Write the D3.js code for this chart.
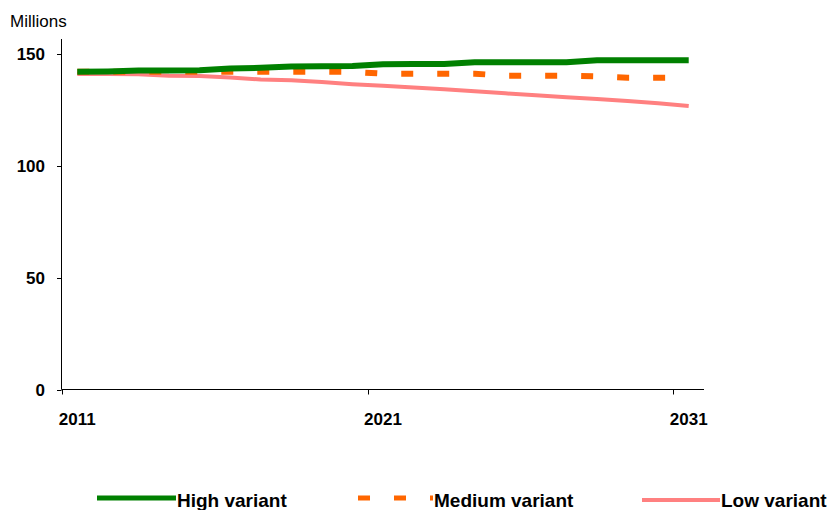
<!DOCTYPE html>
<html>
<head>
<meta charset="utf-8">
<script src="https://cdn.jsdelivr.net/npm/d3@7"></script>
<style>
  body { margin: 0; background: #fff; }
  text { font-family: Arial, "Liberation Sans", sans-serif; fill: #000; }
</style>
</head>
<body>
<div id="chart"></div>
<script>
// data
var years = [2011,2012,2013,2014,2015,2016,2017,2018,2019,2020,2021,2022,2023,2024,2025,2026,2027,2028,2029,2030,2031];
var yearLabels = [2011, 2021, 2031];
var yTicks = [0, 50, 100, 150];

var highVariant   = [142.1,142.2,142.6,142.6,142.7,143.5,143.8,144.4,144.5,144.6,145.4,145.5,145.5,146.3,146.3,146.3,146.3,147.2,147.2,147.2,147.2];
var mediumVariant = [142.1,142.1,142.1,142.1,142.1,142.1,142.1,142.1,142.1,142.0,141.2,141.2,141.2,141.2,140.3,140.3,140.3,140.0,139.4,139.4,139.4];
var lowVariant    = [141.1,141.1,141.0,140.3,140.2,139.5,138.6,138.3,137.5,136.5,135.8,135.0,134.2,133.3,132.4,131.6,130.7,129.9,129.0,128.0,126.7];

var seriesNames = ["High variant", "Medium variant", "Low variant"];
var seriesData = [highVariant, mediumVariant, lowVariant];

var svg = d3.select("#chart").append("svg").attr("width", 831).attr("height", 510);

// scales
var x = d3.scaleBand().domain(years).range([62, 704]).padding(0);
var y = d3.scaleLinear().domain([0, 150]).range([389.5, 54]);
var yTop = 39;

function cx(yr) { return x(yr) + x.bandwidth() / 2; }

// line styles
var styles = [
  { color: "#008000", width: 6, dash: null },
  { color: "#FF6600", width: 6, dash: "12,24" },
  { color: "#FF8080", width: 4, dash: null }
];

// y axis
var yAxis = svg.append('g').attr('class', 'y axis');
yAxis.append('line')
  .attr('x1', 61.5).attr('x2', 61.5)
  .attr('y1', yTop).attr('y2', y(0))
  .attr('stroke', '#000').attr('stroke-width', 1);
yAxis.selectAll('.ytick').data(yTicks).enter().append('line')
  .attr('class', 'ytick')
  .attr('x1', 57).attr('x2', 61.5)
  .attr('y1', function(d){ return Math.round(y(d)) + 0.5; })
  .attr('y2', function(d){ return Math.round(y(d)) + 0.5; })
  .attr('stroke', '#000');
yAxis.selectAll('.ylabel').data(yTicks).enter().append('text')
  .attr('class', 'ylabel')
  .attr('x', 45)
  .attr('y', function(d){ return y(d); })
  .attr('dy', '0.36em')
  .attr('text-anchor', 'end')
  .attr('font-size', 17)
  .attr('font-weight', 'bold')
  .text(function(d){ return d; });

svg.append('text')
  .attr('x', 10).attr('y', 27)
  .attr('font-size', 17)
  .text('Millions');

// x axis
var xAxis = svg.append('g').attr('class', 'x axis');
xAxis.append('line')
  .attr('x1', 61.5).attr('x2', 704)
  .attr('y1', y(0)).attr('y2', y(0))
  .attr('stroke', '#000');
xAxis.selectAll('.xtick').data(yearLabels).enter().append('line')
  .attr('class', 'xtick')
  .attr('x1', function(d){ return Math.round(x(d)) + 0.5; })
  .attr('x2', function(d){ return Math.round(x(d)) + 0.5; })
  .attr('y1', y(0)).attr('y2', y(0) + 5)
  .attr('stroke', '#000');
xAxis.selectAll('.xlabel').data(yearLabels).enter().append('text')
  .attr('class', 'xlabel')
  .attr('x', function(d){ return cx(d); })
  .attr('y', 425)
  .attr('text-anchor', 'middle')
  .attr('font-size', 17)
  .attr('font-weight', 'bold')
  .text(function(d){ return d; });

// lines (low first so high sits on top)
var line = d3.line()
  .x(function(d, i){ return cx(years[i]); })
  .y(function(d){ return y(d); });

[2, 1, 0].forEach(function(k){
  var p = svg.append('path')
    .datum(seriesData[k])
    .attr('d', line)
    .attr('fill', 'none')
    .attr('stroke', styles[k].color)
    .attr('stroke-width', styles[k].width)
    .attr('stroke-linejoin', 'round');
  if (styles[k].dash) p.attr('stroke-dasharray', styles[k].dash);
});

// legend
var legendX = [97, 358, 642];
var legendW = [79, 75, 78];
var legend = svg.selectAll('.legend').data(seriesNames).enter().append('g').attr('class', 'legend');
legend.append('line')
  .attr('x1', function(d, i){ return legendX[i]; })
  .attr('x2', function(d, i){ return legendX[i] + legendW[i]; })
  .attr('y1', function(d, i){ return i == 2 ? 500 : 498; })
  .attr('y2', function(d, i){ return i == 2 ? 500 : 498; })
  .attr('stroke', function(d, i){ return styles[i].color; })
  .attr('stroke-width', function(d, i){ return i == 2 ? 4 : 5; })
  .attr('stroke-dasharray', function(d, i){ return styles[i].dash; });
legend.append('text')
  .attr('x', function(d, i){ return legendX[i] + legendW[i] + 1; })
  .attr('y', 507)
  .attr('font-size', 19)
  .attr('font-weight', 'bold')
  .text(function(d){ return d; });
</script>
</body>
</html>
